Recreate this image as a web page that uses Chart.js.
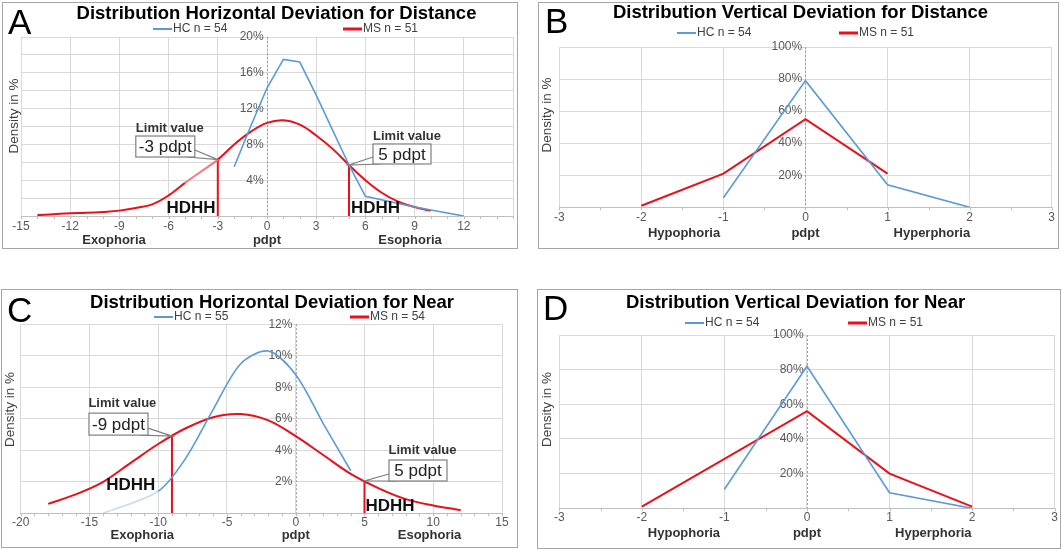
<!DOCTYPE html>
<html>
<head>
<meta charset="utf-8">
<script src="https://cdn.jsdelivr.net/npm/chart.js@4.4.0/dist/chart.umd.min.js"></script>
<style>
  body { margin: 0; background: #fff; }
  .panel { position: absolute; box-sizing: border-box; border: 1px solid #a6a6a6; background: #fff; }
  canvas { display: block; }
</style>
</head>
<body>
<div class="panel" style="left:2px;top:2px;width:516px;height:247px"><canvas id="chartA" width="514" height="245"></canvas></div>
<div class="panel" style="left:538px;top:2px;width:521px;height:247px"><canvas id="chartB" width="519" height="245"></canvas></div>
<div class="panel" style="left:1px;top:289px;width:517px;height:259px"><canvas id="chartC" width="515" height="257"></canvas></div>
<div class="panel" style="left:537px;top:289px;width:524px;height:260px"><canvas id="chartD" width="522" height="258"></canvas></div>
<script>
// A - horizontal deviation, distance
const aHcX = [-2, -1, 0, 1, 2, 3, 4, 5, 6, 9, 12];
const aHcY = [5.5, 10, 14.3, 17.5, 17.2, 13.5, 9.6, 5.7, 2.2, 1.0, 0];
const aMsX = [-14, -13, -12, -11, -10, -9, -8, -7, -6, -5, -4, -3, -2, -1, 0, 1, 2, 3, 4, 5, 6, 7, 8, 9, 10];
const aMsY = [0.1, 0.2, 0.3, 0.35, 0.45, 0.6, 0.9, 1.3, 2.3, 3.7, 5.0, 6.3, 8.0, 9.4, 10.4, 10.7, 10.2, 9.0, 7.5, 5.7, 4.0, 2.6, 1.6, 1.0, 0.6];
const aLimitX = [-3, 5];
const aLimitY = [6.3, 5.7];

// B - vertical deviation, distance
const bHcX = [-1, 0, 1, 2];
const bHcY = [6, 79, 14, 0];
const bMsX = [-2, -1, 0, 1];
const bMsY = [1, 21, 55, 21];

// C - horizontal deviation, near
const cHcX = [-14, -10, -8, -6, -4, -2, 0, 2, 4];
const cHcY = [0, 1.4, 3.5, 6.6, 9.5, 10.3, 8.8, 5.7, 2.7];
const cMsX = [-18, -16, -14, -12, -10, -8, -6, -4, -2, 0, 2, 4, 6, 8, 10, 12];
const cMsY = [0.6, 1.2, 2.0, 3.2, 4.4, 5.4, 6.1, 6.3, 5.9, 4.9, 3.7, 2.5, 1.6, 0.9, 0.5, 0.2];
const cLimitX = [-9, 5];
const cLimitY = [4.9, 2.05];

// D - vertical deviation, near
const dHcX = [-1, 0, 1, 2];
const dHcY = [11, 82, 9, 0];
const dMsX = [-2, 0, 1, 2];
const dMsY = [1, 56, 20, 1];

const BLUE = '#5b9bd5';
const RED = '#e8101a';
const FONT = '"Liberation Sans", Arial, sans-serif';

const pts = (xs, ys) => xs.map((x, i) => ({ x: x, y: ys[i] }));

// text, legend, callouts drawn over each panel
const panelDecor = {
  id: 'panelDecor',
  beforeDatasetsDraw(chart) {
    // dotted value axis at x = 0
    const ctx = chart.ctx, area = chart.chartArea;
    const px = Math.round(chart.scales.x.getPixelForValue(0)) + 0.5;
    ctx.save();
    ctx.strokeStyle = '#a0a0a0';
    ctx.lineWidth = 1;
    ctx.setLineDash([2, 2]);
    ctx.beginPath();
    ctx.moveTo(px, area.top);
    ctx.lineTo(px, area.bottom);
    ctx.stroke();
    ctx.restore();
  },
  afterDraw(chart, args, o) {
    const ctx = chart.ctx;
    const xs = chart.scales.x, ys = chart.scales.y, area = chart.chartArea;
    ctx.save();

    // minor tick marks under the x axis
    ctx.strokeStyle = '#bfbfbf';
    ctx.lineWidth = 1;
    for (let v = xs.min; v <= xs.max + 1e-9; v += o.minorStep) {
      const px = Math.round(xs.getPixelForValue(v)) + 0.5;
      ctx.beginPath();
      ctx.moveTo(px, area.bottom);
      ctx.lineTo(px, area.bottom + 3);
      ctx.stroke();
    }

    // panel letter
    ctx.fillStyle = '#000';
    ctx.textAlign = 'left';
    ctx.textBaseline = 'alphabetic';
    ctx.font = '35px ' + FONT;
    ctx.fillText(o.letter[0], o.letter[1], o.letter[2]);

    // title
    ctx.font = 'bold 18.5px ' + FONT;
    ctx.textAlign = 'center';
    ctx.fillText(o.title[0], o.title[1], o.title[2]);

    // legend
    ctx.font = '12px ' + FONT;
    ctx.textAlign = 'left';
    ctx.textBaseline = 'middle';
    o.legend.forEach(l => {
      ctx.strokeStyle = l.color;
      ctx.lineWidth = l.width;
      ctx.beginPath();
      ctx.moveTo(l.x, l.y);
      ctx.lineTo(l.x + 19, l.y);
      ctx.stroke();
      ctx.fillStyle = '#404040';
      ctx.fillText(l.text, l.x + 20, l.y);
    });

    // y axis title
    ctx.save();
    ctx.translate(o.yTitle[0], o.yTitle[1]);
    ctx.rotate(-Math.PI / 2);
    ctx.font = '13.5px ' + FONT;
    ctx.textAlign = 'center';
    ctx.fillStyle = '#404040';
    ctx.fillText('Density in %', 0, 0);
    ctx.restore();

    // names under the x axis
    ctx.font = 'bold 13px ' + FONT;
    ctx.fillStyle = '#333';
    ctx.textAlign = 'center';
    ctx.textBaseline = 'alphabetic';
    o.xNames.forEach((n, i) => {
      ctx.fillText(n, xs.getPixelForValue(o.xNamePos[i]), area.bottom + o.xNameDy);
    });

    // limit value callouts
    (o.callouts || []).forEach((c, i) => {
      const px = xs.getPixelForValue(o.limitX[i]);
      const py = ys.getPixelForValue(o.limitY[i]);
      const bx = px + c.dx, by = py + c.dy;
      ctx.strokeStyle = '#7f7f7f';
      ctx.lineWidth = 1.2;
      ctx.fillStyle = '#fff';
      ctx.beginPath();
      if (c.dx < 0) {
        ctx.moveTo(bx + c.w, by + c.h - 7);
        ctx.lineTo(px, py);
        ctx.lineTo(bx + c.w - 7, by + c.h);
      } else {
        ctx.moveTo(bx, by + c.h - 7);
        ctx.lineTo(px, py);
        ctx.lineTo(bx + 7, by + c.h);
      }
      ctx.closePath();
      ctx.fill();
      ctx.stroke();
      ctx.fillRect(bx, by, c.w, c.h);
      ctx.strokeRect(bx, by, c.w, c.h);
      ctx.fillStyle = '#222';
      ctx.font = '17px ' + FONT;
      ctx.textAlign = 'center';
      ctx.textBaseline = 'middle';
      ctx.fillText(c.text, bx + c.w / 2, by + c.h / 2 + 1);
      ctx.fillStyle = '#333';
      ctx.font = 'bold 13px ' + FONT;
      ctx.fillText('Limit value', px + c.lx, py + c.ly);
    });

    // HDHH labels
    ctx.fillStyle = '#111';
    ctx.font = 'bold 17px ' + FONT;
    ctx.textAlign = 'center';
    ctx.textBaseline = 'middle';
    (o.hdhh || []).forEach(h => {
      ctx.fillText('HDHH', xs.getPixelForValue(h[0]), area.bottom - h[1]);
    });

    ctx.restore();
  }
};

function limitSets(xs, ys) {
  return xs.map((x, i) => ({
    data: [{ x: x, y: 0 }, { x: x, y: ys[i] }],
    borderColor: RED,
    borderWidth: 2,
    pointRadius: 0
  }));
}

function makeChart(id, c) {
  return new Chart(document.getElementById(id), {
    type: 'line',
    data: {
      datasets: [
        {
          label: c.hcLabel,
          data: pts(c.hcX, c.hcY),
          borderColor: BLUE,
          borderWidth: 1.6,
          pointRadius: 0,
          tension: c.hcTension,
          segment: c.hcSegment
        },
        {
          label: c.msLabel,
          data: pts(c.msX, c.msY),
          borderColor: RED,
          borderWidth: 2,
          pointRadius: 0,
          tension: c.msTension,
          segment: c.msSegment
        }
      ].concat(c.limitX ? limitSets(c.limitX, c.limitY) : [])
    },
    options: {
      responsive: false,
      animation: false,
      layout: { padding: c.padding },
      plugins: {
        legend: { display: false },
        tooltip: { enabled: false },
        panelDecor: c.decor
      },
      scales: {
        x: {
          type: 'linear',
          min: c.xMin,
          max: c.xMax,
          afterFit: s => { s.height = 20; },
          ticks: {
            stepSize: c.xStep,
            padding: c.xPad,
            color: '#595959',
            font: { family: FONT, size: 12 },
            maxRotation: 0,
            callback: v => (c.xHide.includes(v) ? '' : String(v))
          },
          grid: { color: '#d9d9d9', drawTicks: false },
          border: { color: '#bfbfbf' }
        },
        y: {
          type: 'linear',
          position: { x: 0 },
          min: 0,
          max: c.yMax,
          ticks: {
            stepSize: c.yStep,
            color: '#595959',
            font: { family: FONT, size: 12 },
            callback: v => (v > 0 && v % c.yLabelStep === 0 ? v + '% ' : '')
          },
          grid: { color: '#d9d9d9', drawTicks: false },
          border: { display: false }
        }
      }
    },
    plugins: [panelDecor]
  });
}

makeChart('chartA', {
  hcLabel: 'HC n = 54', msLabel: 'MS n = 51',
  hcX: aHcX, hcY: aHcY, msX: aMsX, msY: aMsY,
  limitX: aLimitX, limitY: aLimitY,
  hcTension: 0, msTension: 0.4,
  hcSegment: undefined,
  msSegment: { borderColor: s => (s.p0.parsed.x >= -5 && s.p1.parsed.x <= -3 ? '#f47a7a' : RED) },
  padding: { left: 18, right: 4, top: 34, bottom: 12 },
  xMin: -15, xMax: 15, xStep: 3, xPad: 3, xHide: [15],
  yMax: 20, yStep: 2, yLabelStep: 4,
  decor: {
    minorStep: 1,
    letter: ['A', 5, 31],
    title: ['Distribution Horizontal Deviation for Distance', 273.5, 16],
    legend: [
      { text: 'HC n = 54', color: BLUE, width: 2, x: 150, y: 26 },
      { text: 'MS n = 51', color: RED, width: 3, x: 340, y: 26 }
    ],
    yTitle: [11, 113],
    xNames: ['Exophoria', 'pdpt', 'Esophoria'],
    xNamePos: [-9.33, 0, 8.72],
    xNameDy: 28,
    limitX: aLimitX, limitY: aLimitY,
    callouts: [
      { text: '-3 pdpt', dx: -82, dy: -23.6, w: 59, h: 21, lx: -48, ly: -31.6 },
      { text: '5 pdpt', dx: 24, dy: -21, w: 58, h: 20, lx: 58, ly: -29 }
    ],
    hdhh: [[-4.63, 8], [6.62, 8]]
  }
});

makeChart('chartB', {
  hcLabel: 'HC n = 54', msLabel: 'MS n = 51',
  hcX: bHcX, hcY: bHcY, msX: bMsX, msY: bMsY,
  hcTension: 0, msTension: 0,
  padding: { left: 20.3, right: 2, top: 44, bottom: 20.7 },
  xMin: -3, xMax: 3, xStep: 1, xPad: 3, xHide: [],
  yMax: 100, yStep: 10, yLabelStep: 20,
  decor: {
    minorStep: 0.5,
    letter: ['B', 6, 30],
    title: ['Distribution Vertical Deviation for Distance', 261.5, 15.3],
    legend: [
      { text: 'HC n = 54', color: BLUE, width: 2, x: 138, y: 30 },
      { text: 'MS n = 51', color: RED, width: 3, x: 300, y: 30 }
    ],
    yTitle: [8.5, 112],
    xNames: ['Hypophoria', 'pdpt', 'Hyperphoria'],
    xNamePos: [-1.48, 0, 1.54],
    xNameDy: 30
  }
});

makeChart('chartC', {
  hcLabel: 'HC n = 55', msLabel: 'MS n = 54',
  hcX: cHcX, hcY: cHcY, msX: cMsX, msY: cMsY,
  limitX: cLimitX, limitY: cLimitY,
  hcTension: 0.3, msTension: 0.35,
  hcSegment: { borderColor: s => (s.p1.parsed.x <= -10 ? '#c9dcef' : BLUE) },
  msSegment: undefined,
  padding: { left: 18.7, right: 15, top: 34.3, bottom: 13.7 },
  xMin: -20, xMax: 15, xStep: 5, xPad: 2, xHide: [],
  yMax: 12, yStep: 2, yLabelStep: 2,
  decor: {
    minorStep: 1,
    letter: ['C', 5, 32],
    title: ['Distribution Horizontal Deviation for Near', 270, 18],
    legend: [
      { text: 'HC n = 55', color: BLUE, width: 2, x: 152, y: 27 },
      { text: 'MS n = 54', color: RED, width: 3, x: 348, y: 27 }
    ],
    yTitle: [8, 119.5],
    xNames: ['Exophoria', 'pdpt', 'Esophoria'],
    xNamePos: [-11.16, 0, 9.73],
    xNameDy: 26,
    limitX: cLimitX, limitY: cLimitY,
    callouts: [
      { text: '-9 pdpt', dx: -83, dy: -23, w: 59, h: 22, lx: -49.6, ly: -33 },
      { text: '5 pdpt', dx: 24.5, dy: -21, w: 58, h: 21, lx: 58, ly: -31 }
    ],
    hdhh: [[-12, 28], [6.86, 7]]
  }
});

makeChart('chartD', {
  hcLabel: 'HC n = 54', msLabel: 'MS n = 51',
  hcX: dHcX, hcY: dHcY, msX: dMsX, msY: dMsY,
  hcTension: 0, msTension: 0,
  padding: { left: 21.3, right: 4, top: 45, bottom: 19.7 },
  xMin: -3, xMax: 3, xStep: 1, xPad: 2, xHide: [],
  yMax: 100, yStep: 10, yLabelStep: 20,
  decor: {
    minorStep: 0.5,
    letter: ['D', 5, 30],
    title: ['Distribution Vertical Deviation for Near', 257.5, 17.7],
    legend: [
      { text: 'HC n = 54', color: BLUE, width: 2, x: 147, y: 33 },
      { text: 'MS n = 51', color: RED, width: 3, x: 310, y: 33 }
    ],
    yTitle: [9.5, 119.5],
    xNames: ['Hypophoria', 'pdpt', 'Hyperphoria'],
    xNamePos: [-1.49, 0, 1.53],
    xNameDy: 29
  }
});
</script>
</body>
</html>
